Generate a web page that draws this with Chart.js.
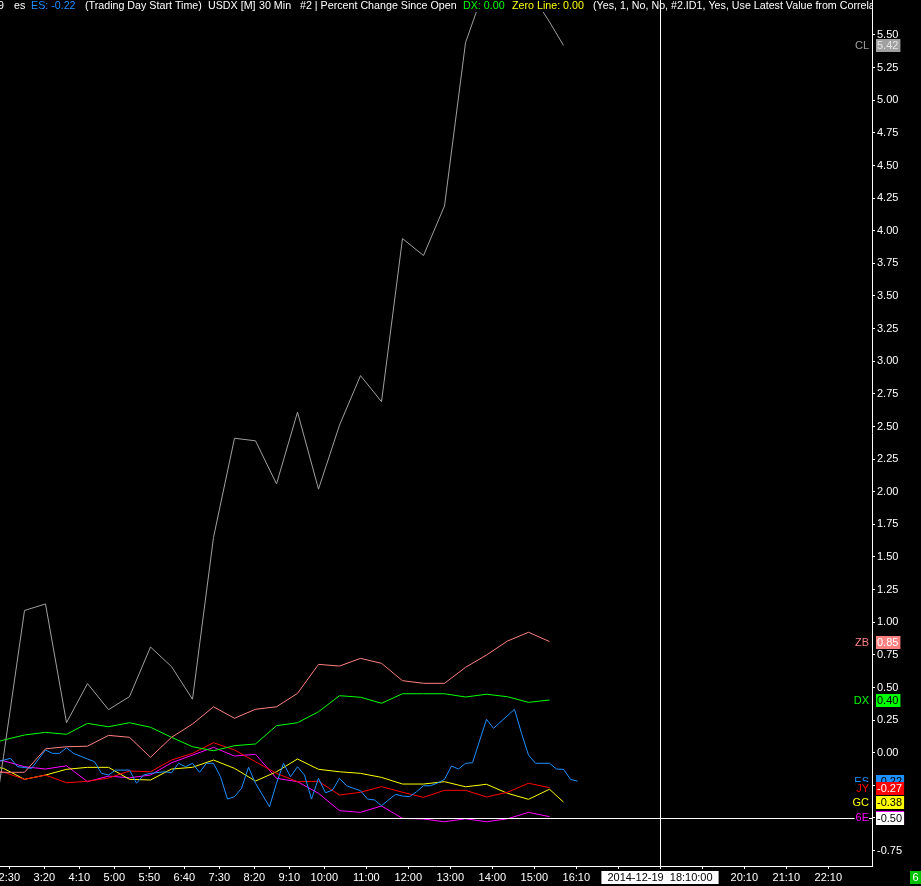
<!DOCTYPE html>
<html>
<head>
<meta charset="utf-8">
<script src="https://cdn.jsdelivr.net/npm/chart.js@4.4.1/dist/chart.umd.min.js"></script>
<style>
  html, body { margin: 0; padding: 0; background: #000; }
  canvas { display: block; background: #000; }
</style>
</head>
<body>
<canvas id="chart" width="921" height="886"></canvas>
<script>
// x is counted in 10 minute slots, the 30 min bars sit on every third slot
const barSlots = [-3, 0, 3, 6, 9, 12, 15, 18, 21, 24, 27, 30, 33, 36, 39, 42, 45, 48, 51, 54, 57, 60, 63, 66, 69, 72, 75, 78]
const lateSlots = [...barSlots, 80]

// percent change since open
const clValues = [-1.1, -0.03, 1.09, 1.14, 0.23, 0.53, 0.33, 0.43, 0.81, 0.66, 0.41, 1.65, 2.41, 2.39, 2.06, 2.61, 2.02, 2.51, 2.89, 2.69, 3.94, 3.81, 4.19, 5.44, 5.9, 5.95, 5.85, 5.6, 5.42]
const zbValues = [-0.15, -0.15, -0.15, 0.03, 0.046, 0.05, 0.133, 0.118, -0.035, 0.118, 0.22, 0.352, 0.264, 0.333, 0.352, 0.455, 0.677, 0.664, 0.723, 0.685, 0.552, 0.532, 0.532, 0.654, 0.749, 0.856, 0.923, 0.852]
const dxValues = [0.05, 0.097, 0.136, 0.156, 0.141, 0.225, 0.199, 0.23, 0.195, 0.118, 0.046, 0.015, 0.054, 0.067, 0.207, 0.23, 0.314, 0.437, 0.425, 0.379, 0.452, 0.452, 0.452, 0.427, 0.448, 0.429, 0.386, 0.404]
const jyValues = [-0.13, -0.148, -0.204, -0.171, -0.23, -0.219, -0.194, -0.14, -0.146, -0.056, -0.005, 0.077, 0.021, -0.069, -0.158, -0.222, -0.219, -0.324, -0.303, -0.26, -0.303, -0.342, -0.288, -0.288, -0.339, -0.303, -0.234, -0.268]
const gcValues = [-0.09, -0.12, -0.204, -0.171, -0.127, -0.112, -0.112, -0.204, -0.209, -0.125, -0.112, -0.056, -0.12, -0.217, -0.146, -0.048, -0.127, -0.146, -0.158, -0.189, -0.24, -0.24, -0.222, -0.261, -0.242, -0.311, -0.357, -0.28, -0.378]
const e6Values = [-0.05, -0.062, -0.107, -0.125, -0.1, -0.222, -0.179, -0.192, -0.171, -0.077, -0.018, 0.041, -0.025, -0.012, -0.196, -0.222, -0.311, -0.444, -0.457, -0.408, -0.503, -0.508, -0.529, -0.506, -0.529, -0.506, -0.457, -0.49]

// ES comes in on a finer grid
const esSlots = [-1, 1, 2, 4, 6, 7, 8, 9, 10, 12, 13, 14, 15, 16, 18, 19, 20, 21, 23, 24, 25, 26, 27, 28, 29, 30, 31, 32, 33, 34, 35, 36, 37, 38, 39, 40, 41, 42, 43, 44, 45, 46, 47, 48, 49, 50, 51, 52, 53, 54, 55, 56, 57, 58, 59, 60, 61, 62, 63, 64, 65, 66, 67, 69, 70, 73, 74, 75, 76, 78, 79, 80, 81, 82]
const esValues = [-0.071, -0.043, -0.107, -0.12, 0.021, -0.005, -0.005, 0.038, -0.005, -0.048, -0.069, -0.158, -0.171, -0.133, -0.133, -0.234, -0.171, -0.158, -0.146, -0.153, -0.081, -0.107, -0.081, -0.15, -0.081, -0.081, -0.184, -0.355, -0.337, -0.273, -0.112, -0.234, -0.324, -0.414, -0.234, -0.081, -0.184, -0.107, -0.171, -0.355, -0.196, -0.307, -0.286, -0.196, -0.253, -0.273, -0.291, -0.355, -0.362, -0.406, -0.362, -0.319, -0.332, -0.337, -0.299, -0.253, -0.253, -0.232, -0.204, -0.102, -0.125, -0.081, -0.077, 0.256, 0.187, 0.333, 0.149, -0.018, -0.081, -0.081, -0.125, -0.127, -0.204, -0.218]

// time axis
const tickSlots = [0.83, 5.83, 10.83, 15.83, 20.83, 25.83, 30.83, 35.83, 40.83, 45.83, 51.83, 57.83, 63.83, 69.83, 75.83, 81.83, 87.83, 93.83, 99.83, 105.83, 111.83, 117.83]
const tickLabels = ['2:30', '3:20', '4:10', '5:00', '5:50', '6:40', '7:30', '8:20', '9:10', '10:00', '11:00', '12:00', '13:00', '14:00', '15:00', '16:10', '17:10', '18:10', '19:10', '20:10', '21:10', '22:10']
const yTicks = [-0.75, -0.5, -0.25, 0, 0.25, 0.5, 0.75, 1, 1.25, 1.5, 1.75, 2, 2.25, 2.5, 2.75, 3, 3.25, 3.5, 3.75, 4, 4.25, 4.5, 4.75, 5, 5.25, 5.5]

const crossSlot = 93.83
const crossValue = -0.5
const crossLabel = '2014-12-19  18:10:00'

const series = [
  { name: 'CL', slots: lateSlots, values: clValues, color: '#a0a0a0', badgeText: '#e6e6e6' },
  { name: 'ZB', slots: barSlots, values: zbValues, color: '#ff8080', badgeText: '#ffffff' },
  { name: 'DX', slots: barSlots, values: dxValues, color: '#00ff00', badgeText: '#000000' },
  { name: 'ES', slots: esSlots, values: esValues, color: '#1e90ff', badgeText: '#000000' },
  { name: 'JY', slots: barSlots, values: jyValues, color: '#ff0000', badgeText: '#ffffff' },
  { name: 'GC', slots: lateSlots, values: gcValues, color: '#ffff00', badgeText: '#000000' },
  { name: '6E', slots: barSlots, values: e6Values, color: '#ff00ff', badgeText: '#000000' },
]

const FONT = "11px 'Liberation Sans', Arial, sans-serif"
const HEADER_FONT = "10.7px 'Liberation Sans', Arial, sans-serif"
Chart.defaults.font.family = "'Liberation Sans', Arial, sans-serif"
Chart.defaults.font.size = 11
Chart.defaults.color = '#ffffff'

const headerParts = [
  ['9', '#ffffff', -2],
  ['es', '#ffffff', 14],
  ['ES: -0.22', '#1e90ff', 31],
  ['(Trading Day Start Time)', '#ffffff', 85],
  ['USDX [M]', '#ffffff', 208],
  ['30 Min', '#ffffff', 259],
  ['#2 | Percent Change Since Open', '#ffffff', 300],
  ['DX: 0.00', '#00ff00', 463],
  ['Zero Line: 0.00', '#ffff00', 512],
  ['(Yes, 1, No, No, #2.ID1, Yes, Use Latest Value from Correlation Start)', '#ffffff', 593],
]

const overlay = {
  id: 'overlay',
  afterDatasetsDraw(chart) {
    const { ctx, chartArea } = chart
    const { x, y } = chart.scales
    ctx.save()
    ctx.fillStyle = '#000'
    ctx.fillRect(0, 0, chartArea.right, 12)
    const cx = Math.round(x.getPixelForValue(crossSlot)) + 0.5
    const cy = Math.round(y.getPixelForValue(crossValue)) + 0.5
    ctx.strokeStyle = '#ffffff'
    ctx.lineWidth = 1
    ctx.beginPath()
    ctx.moveTo(cx, 0)
    ctx.lineTo(cx, chartArea.bottom)
    ctx.moveTo(0, cy)
    ctx.lineTo(chartArea.right, cy)
    ctx.stroke()
    ctx.restore()
  },
  afterDraw(chart) {
    const { ctx, chartArea } = chart
    const { x, y } = chart.scales
    ctx.save()
    ctx.textBaseline = 'middle'

    // header
    ctx.save()
    ctx.font = HEADER_FONT
    ctx.beginPath()
    ctx.rect(0, 0, chartArea.right, 14)
    ctx.clip()
    ctx.textAlign = 'left'
    headerParts.forEach(([text, color, px]) => {
      ctx.fillStyle = color
      ctx.fillText(text, px, 6.5)
    })
    ctx.restore()

    ctx.font = FONT
    const badge = (text, cy, bg, fg) => {
      const w = ctx.measureText(text).width + 3
      ctx.fillStyle = bg
      ctx.fillRect(876, Math.round(cy) - 6, w, 13)
      ctx.fillStyle = fg
      ctx.textAlign = 'left'
      ctx.fillText(text, 877, Math.round(cy) + 0.5)
    }

    series.forEach((s) => {
      const last = s.values[s.values.length - 1]
      const cy = y.getPixelForValue(last)
      const tw = ctx.measureText(s.name).width
      ctx.fillStyle = '#000'
      ctx.fillRect(868 - tw, Math.round(cy) - 6, tw + 1, 13)
      ctx.fillStyle = s.color
      ctx.textAlign = 'right'
      ctx.fillText(s.name, 869, Math.round(cy) + 0.5)
      badge(last.toFixed(2), cy, s.color, s.badgeText)
    })
    badge(crossValue.toFixed(2), y.getPixelForValue(crossValue), '#ffffff', '#000000')

    // date box under the crosshair
    const cx = Math.round(x.getPixelForValue(crossSlot))
    const dw = ctx.measureText(crossLabel).width + 12
    ctx.fillStyle = '#ffffff'
    ctx.fillRect(cx - dw / 2, chartArea.bottom + 5, dw, 13)
    ctx.fillStyle = '#000000'
    ctx.textAlign = 'center'
    ctx.fillText(crossLabel, cx, chartArea.bottom + 12)

    // little green box in the corner
    ctx.fillStyle = '#00c000'
    ctx.fillRect(910, chartArea.bottom + 5, 11, 13)
    ctx.fillStyle = '#ffffff'
    ctx.fillText('6', 915.5, chartArea.bottom + 12)
    ctx.restore()
  },
}

new Chart(document.getElementById('chart'), {
  type: 'line',
  data: {
    datasets: series.map((s) => ({
      label: s.name,
      data: s.slots.map((slot, i) => ({ x: slot, y: s.values[i] })),
      borderColor: s.color,
      borderWidth: 1,
      pointRadius: 0,
      tension: 0,
      fill: false,
    })),
  },
  options: {
    responsive: false,
    animation: false,
    devicePixelRatio: 1,
    layout: { padding: 0 },
    plugins: { legend: { display: false }, tooltip: { enabled: false } },
    scales: {
      x: {
        type: 'linear',
        position: 'bottom',
        min: -0.5,
        max: 124.07,
        afterBuildTicks: (scale) => { scale.ticks = tickSlots.map((v) => ({ value: v })) },
        afterFit: (scale) => { scale.height = 20; scale.paddingLeft = 0; scale.paddingRight = 0 },
        ticks: {
          autoSkip: false,
          maxRotation: 0,
          minRotation: 0,
          padding: 2,
          color: '#ffffff',
          callback: (value, index) => tickLabels[index],
        },
        grid: { drawOnChartArea: false, drawTicks: true, tickLength: 3, color: '#ffffff' },
        border: { display: true, color: '#ffffff', width: 1 },
      },
      y: {
        type: 'linear',
        position: 'right',
        min: -0.868,
        max: 5.768,
        afterBuildTicks: (scale) => { scale.ticks = yTicks.map((v) => ({ value: v })) },
        afterFit: (scale) => { scale.width = 49; scale.paddingTop = 0; scale.paddingBottom = 0 },
        ticks: {
          padding: 2,
          color: '#ffffff',
          callback: (value) => value.toFixed(2),
        },
        grid: { drawOnChartArea: false, drawTicks: true, tickLength: 3, color: '#ffffff' },
        border: { display: true, color: '#ffffff', width: 1 },
      },
    },
  },
  plugins: [overlay],
})
</script>
</body>
</html>
